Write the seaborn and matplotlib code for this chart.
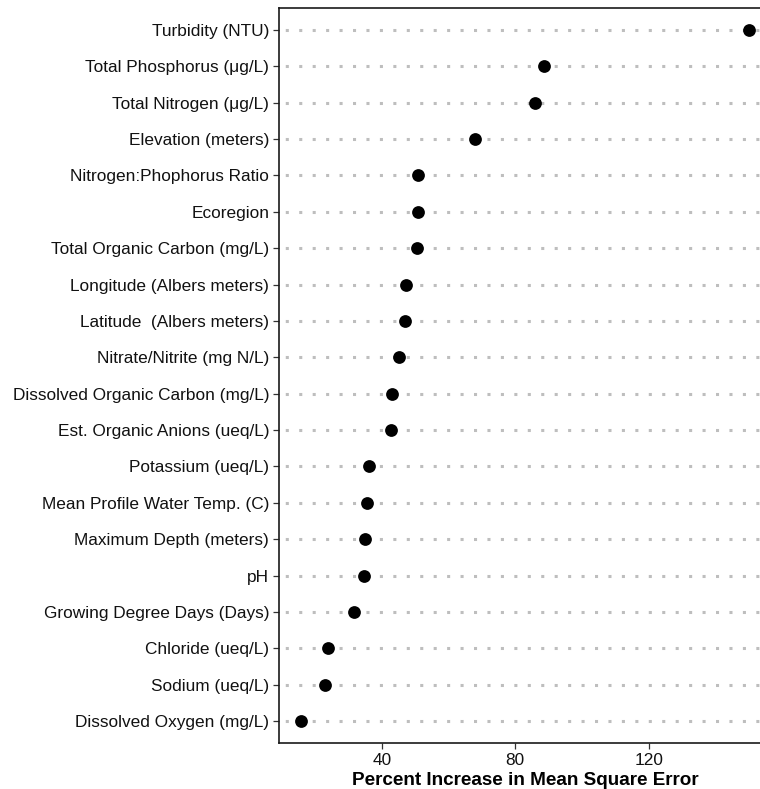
import matplotlib
matplotlib.use("Agg")
import matplotlib.pyplot as plt
import seaborn as sns
import pandas as pd

variables = [
    "Turbidity (NTU)",
    "Total Phosphorus (\u03bcg/L)",
    "Total Nitrogen (\u03bcg/L)",
    "Elevation (meters)",
    "Nitrogen:Phophorus Ratio",
    "Ecoregion",
    "Total Organic Carbon (mg/L)",
    "Longitude (Albers meters)",
    "Latitude  (Albers meters)",
    "Nitrate/Nitrite (mg N/L)",
    "Dissolved Organic Carbon (mg/L)",
    "Est. Organic Anions (ueq/L)",
    "Potassium (ueq/L)",
    "Mean Profile Water Temp. (C)",
    "Maximum Depth (meters)",
    "pH",
    "Growing Degree Days (Days)",
    "Chloride (ueq/L)",
    "Sodium (ueq/L)",
    "Dissolved Oxygen (mg/L)",
]
pct_inc_mse = [149.9, 88.7, 86.0, 67.9, 51.0, 50.8, 50.5, 47.3, 47.0, 45.3,
               43.0, 42.9, 36.1, 35.5, 34.9, 34.7, 31.8, 23.9, 22.9, 15.9]
x_ticks = [40, 80, 120]

df = pd.DataFrame({"variable": variables, "inc_mse": pct_inc_mse})

sns.set_style("white")
plt.rcParams["font.family"] = ["Liberation Sans", "DejaVu Sans"]

fig = plt.figure(figsize=(7.6, 7.89), dpi=100)
ax = fig.add_axes([0.367, 0.0583, 0.6475, 0.9316])

n = len(variables)

# dotted guide line behind each variable
ax.hlines(range(n), xmin=0, xmax=200, colors="#bebebe", linewidth=2.2,
          linestyles=[(1, (1, 3.4))], zorder=1)

sns.stripplot(data=df, x="inc_mse", y="variable", order=variables,
              orient="h", jitter=False, color="black", size=9.2,
              linewidth=0, ax=ax, zorder=3)

lo, hi = min(pct_inc_mse), max(pct_inc_mse)
pad = (hi - lo) * 0.05
ax.set_xlim(lo - pad, hi + pad)
ax.set_ylim(n - 1 + 0.6, -0.6)
ax.grid(False)

ax.set_xticks(x_ticks)
ax.set_xticklabels([str(t) for t in x_ticks])
ax.tick_params(axis="both", which="major", length=4, width=0.9,
               color="#333333", labelsize=12.4, labelcolor="#111111",
               direction="out", left=True, bottom=True, pad=3)

for side in ["left", "bottom", "top"]:
    ax.spines[side].set_visible(True)
    ax.spines[side].set_color("#1a1a1a")
    ax.spines[side].set_linewidth(1.2)
ax.spines["right"].set_visible(False)

ax.set_ylabel("")
ax.set_xlabel("Percent Increase in Mean Square Error", fontsize=13.6,
              fontweight="bold", color="black", labelpad=3)

fig.savefig("out.png", dpi=100)
